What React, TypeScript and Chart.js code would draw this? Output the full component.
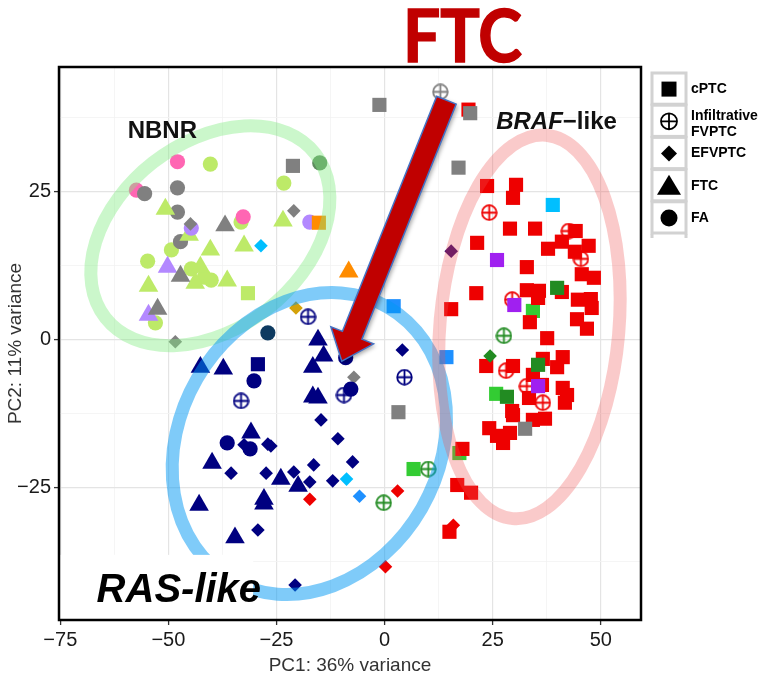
import React, { useEffect, useRef } from 'react';
import { Chart, registerables } from 'chart.js';

Chart.register(...registerables);

const FONT = '"Liberation Sans", Arial, Helvetica, sans-serif';

// ---------- axes ----------
const xRange = [-75.3, 59.3];
const yRange = [-47.3, 46.1];
const xTicks = [-75, -62.5, -50, -37.5, -25, -12.5, 0, 12.5, 25, 37.5, 50];
const yTicks = [-37.5, -25, -12.5, 0, 12.5, 25, 37.5];
const xMajor = [-75, -50, -25, 0, 25, 50];
const yMajor = [-25, 0, 25];
const xTitle = 'PC1: 36% variance';
const yTitle = 'PC2: 11% variance';

// ---------- data: [PC1, PC2] ----------
const redSquares = [
  [19.4, 38.9], [23.7, 26.0], [30.4, 26.2], [29.7, 24.0], [29.0, 18.8], [34.8, 18.8], [44.2, 18.4],
  [21.4, 16.4], [37.8, 15.4], [41.0, 16.6], [47.2, 15.9], [44.0, 14.9], [32.9, 12.3], [45.6, 11.1],
  [48.4, 10.5], [21.2, 7.9], [32.9, 8.4], [35.7, 8.3], [41.0, 8.1], [35.5, 7.1], [15.4, 5.2],
  [44.7, 6.8], [47.7, 6.9], [47.9, 5.4], [44.5, 3.5], [46.8, 1.9], [33.6, 3.0], [37.6, 0.3],
  [23.5, -4.4], [29.7, -4.4], [36.6, -3.2], [41.2, -2.9], [39.9, -4.6], [34.3, -5.9], [36.4, -7.6],
  [41.2, -8.1], [42.2, -9.3], [33.4, -9.8], [41.7, -10.6], [29.5, -12.0], [29.7, -12.7], [34.3, -13.5],
  [37.1, -13.3], [24.2, -14.9], [26.0, -16.2], [29.0, -15.7], [27.4, -17.4], [18.0, -18.4],
  [16.8, -24.5], [20.0, -25.8], [15.0, -32.4],
];
const redCrossed = [[24.2, 21.5], [42.6, 18.4], [45.4, 13.7], [29.5, 6.8], [28.1, -5.2], [32.9, -7.8], [36.6, -10.6]];
const redDiamonds = [[-17.3, -26.9], [3.0, -25.5], [0.2, -38.3], [15.9, -31.3]];

const navyTriangles = [
  [-15.4, 0.0], [-14.1, -2.7], [-16.6, -4.6], [-42.6, -4.6], [-37.3, -4.9], [-16.6, -9.6], [-15.4, -9.8],
  [-30.9, -15.7], [-39.9, -20.8], [-24.0, -23.5], [-20.0, -24.7], [-27.9, -26.9], [-27.9, -27.7],
  [-42.9, -27.9], [-34.6, -33.4],
];
const navyCircles = [[-9.0, -3.0], [-30.2, -6.9], [-7.8, -8.3], [-36.4, -17.4], [-31.1, -18.4]];
const navyDiamonds = [
  [-14.7, -13.5], [-10.8, -16.7], [-32.5, -17.7], [-27.0, -17.6], [-26.3, -17.9], [-35.5, -22.5],
  [-27.4, -22.5], [-21.0, -22.3], [-16.4, -21.1], [-7.4, -20.6], [-17.3, -24.0], [-12.0, -23.8],
  [-29.3, -32.1], [-20.7, -41.4], [4.1, -1.7],
];
const navyCrossed = [[-17.7, 3.9], [-33.2, -10.3], [-9.4, -9.3], [4.6, -6.3]];
const navySquares = [[-29.3, -4.1]];
const tealCircles = [[-27.0, 1.2]];

const ygCircles = [[-40.3, 29.7], [-23.3, 26.5], [-33.2, 19.9], [-49.3, 15.2], [-54.8, 13.3], [-44.7, 12.0], [-41.7, 10.6], [-40.1, 10.1], [-53.0, 2.9]];
const ygTriangles = [[-50.7, 22.1], [-23.5, 20.1], [-45.2, 17.7], [-32.5, 15.9], [-40.3, 15.2], [-42.6, 12.3], [-43.8, 9.6], [-36.4, 10.0], [-54.6, 9.1]];
const ygSquares = [[-31.6, 7.9]];
const pinkCircles = [[-47.9, 30.1], [-57.4, 25.3], [-32.7, 20.8]];
const grayCircles = [[-55.5, 24.7], [-47.9, 25.7], [-47.9, 21.6], [-47.2, 16.6]];
const grayTriangles = [[-36.9, 19.3], [-47.2, 10.8], [-52.5, 5.2]];
const grayDiamonds = [[-21.0, 21.8], [-44.9, 19.6], [-48.4, -0.3], [-7.1, -6.3]];
const graySquares = [[-1.2, 39.7], [19.8, 38.3], [17.1, 29.1], [-21.2, 29.4], [3.2, -12.2], [32.5, -15.0]];
const grayCrossed = [[12.9, 41.9]];
const lilacCircles = [[-44.7, 18.9], [-17.3, 19.9]];
const lilacTriangles = [[-50.2, 12.3], [-54.6, 4.2]];
const seaCircles = [[-15.0, 29.9]];
const orangeSquares = [[-15.2, 19.8]];
const orangeTriangles = [[-8.3, 11.5]];
const goldDiamonds = [[-20.5, 5.4]];
const skyDiamonds = [[-28.6, 15.9], [-8.8, -23.5]];
const dodgerDiamonds = [[-5.8, -26.4]];
const skySquares = [[38.9, 22.8]];
const dodgerSquares = [[2.1, 5.7], [14.3, -2.9]];
const indigoDiamonds = [[15.4, 15.0]];
const limeSquares = [[34.3, 4.9], [25.8, -9.1], [17.3, -19.1], [6.7, -21.8]];
const forestSquares = [[39.9, 8.8], [35.5, -4.2], [28.3, -9.6]];
const forestDiamonds = [[24.4, -2.7]];
const forestCrossed = [[27.6, 0.7], [10.1, -21.8], [-0.2, -27.5]];
const purpleSquares = [[26.0, 13.5], [30.0, 5.9], [35.5, -7.8]];

// ---------- annotations (data coordinates) ----------
const ellipses = [
  { cx: -40.3, cy: 17.6, a: 30.8, b: 21.5, angle: -38, color: 'rgba(130,235,130,0.42)' },
  { cx: -17.4, cy: -17.5, a: 36.4, b: 30.0, angle: -60, color: 'rgba(0,151,243,0.5)' },
  { cx: 33.5, cy: 2.2, a: 44.5, b: 20.7, angle: -85, color: 'rgba(240,80,80,0.3)' },
];
const arrowTail = [14.3, 40.5];
const arrowTip = [-9.9, -3.6];
const rasBox = [-75.3, -30.4, -47.3, -36.3];
const nbnrPos = [-51.4, 35.3];
const brafPos = [25.8, 36.8];
const rasPos = [-66.6, -42.4];
const ftcX = 18.0;
const legendItems = ['cPTC', 'Infiltrative\nFVPTC', 'EFVPTC', 'FTC', 'FA'];
const legendShapes = ['rect', 'crossed', 'rectRot', 'triangle', 'circle'];

const RED = '#ee0000';
const NAVY = '#000080';
const GRAY = '#808080';

function crossedCircle(color: string, d = 17) {
  const c = document.createElement('canvas');
  c.width = d;
  c.height = d;
  const g = c.getContext('2d')!;
  g.strokeStyle = color;
  g.lineWidth = 1.8;
  const r = d / 2 - 1.2;
  g.beginPath();
  g.arc(d / 2, d / 2, r, 0, Math.PI * 2);
  g.stroke();
  g.beginPath();
  g.moveTo(d / 2 - r, d / 2);
  g.lineTo(d / 2 + r, d / 2);
  g.moveTo(d / 2, d / 2 - r);
  g.lineTo(d / 2, d / 2 + r);
  g.stroke();
  return c;
}

const fmt = (v: number) => (v < 0 ? '\u2212' + Math.abs(v) : String(v));

const overlayPlugin = {
  id: 'overlays',
  afterDatasetsDraw(chart: any) {
    const { ctx, chartArea: ca, scales } = chart;
    const X = (v: number) => scales.x.getPixelForValue(v);
    const Y = (v: number) => scales.y.getPixelForValue(v);
    const unit = Math.abs(X(1) - X(0));

    ctx.save();
    ctx.beginPath();
    ctx.rect(ca.left, ca.top, ca.right - ca.left, ca.bottom - ca.top);
    ctx.clip();
    for (const e of ellipses) {
      ctx.beginPath();
      ctx.ellipse(X(e.cx), Y(e.cy), e.a * unit, e.b * unit, (e.angle * Math.PI) / 180, 0, Math.PI * 2);
      ctx.strokeStyle = e.color;
      ctx.lineWidth = 13;
      ctx.stroke();
    }
    // white box behind RAS-like
    ctx.fillStyle = '#ffffff';
    const bx0 = X(rasBox[0]), bx1 = X(rasBox[1]), by0 = Y(rasBox[3]), by1 = Y(rasBox[2]);
    ctx.fillRect(bx0, by0, bx1 - bx0, by1 - by0);
    ctx.restore();

    // labels
    ctx.save();
    ctx.fillStyle = '#111';
    ctx.textBaseline = 'middle';
    ctx.textAlign = 'center';
    ctx.font = `bold 24px ${FONT}`;
    ctx.fillText('NBNR', X(nbnrPos[0]), Y(nbnrPos[1]));
    ctx.textAlign = 'left';
    ctx.font = `italic bold 24px ${FONT}`;
    const bx = X(brafPos[0]);
    ctx.fillText('BRAF', bx, Y(brafPos[1]));
    const bw = ctx.measureText('BRAF').width;
    ctx.font = `bold 24px ${FONT}`;
    ctx.fillText('\u2212like', bx + bw, Y(brafPos[1]));
    ctx.fillStyle = '#000';
    ctx.font = `italic bold 40px ${FONT}`;
    ctx.fillText('RAS-like', X(rasPos[0]), Y(rasPos[1]));
    ctx.restore();

    // panel border
    ctx.save();
    ctx.strokeStyle = '#000';
    ctx.lineWidth = 2.5;
    ctx.strokeRect(ca.left, ca.top, ca.right - ca.left, ca.bottom - ca.top);
    ctx.restore();

    // arrow
    const tx = X(arrowTail[0]), ty = Y(arrowTail[1]);
    const hx = X(arrowTip[0]), hy = Y(arrowTip[1]);
    const len = Math.hypot(hx - tx, hy - ty);
    const ux = (hx - tx) / len, uy = (hy - ty) / len;
    const px = -uy, py = ux;
    const sw = 10.5, hw = 23, hl = 28;
    const bxm = hx - ux * hl, bym = hy - uy * hl;
    ctx.save();
    ctx.beginPath();
    ctx.moveTo(tx + px * sw, ty + py * sw);
    ctx.lineTo(bxm + px * sw, bym + py * sw);
    ctx.lineTo(bxm + px * hw, bym + py * hw);
    ctx.lineTo(hx, hy);
    ctx.lineTo(bxm - px * hw, bym - py * hw);
    ctx.lineTo(bxm - px * sw, bym - py * sw);
    ctx.lineTo(tx - px * sw, ty - py * sw);
    ctx.closePath();
    ctx.shadowColor = 'rgba(0,0,0,0.35)';
    ctx.shadowBlur = 4;
    ctx.shadowOffsetX = 2;
    ctx.shadowOffsetY = 2;
    ctx.fillStyle = '#c00000';
    ctx.fill();
    ctx.shadowColor = 'transparent';
    ctx.strokeStyle = '#4472c4';
    ctx.lineWidth = 1.5;
    ctx.stroke();
    ctx.restore();

    // FTC title
    ctx.save();
    ctx.fillStyle = '#c00000';
    ctx.font = `bold 72px Lato, "Open Sans", ${FONT}`;
    ctx.textAlign = 'center';
    ctx.textBaseline = 'alphabetic';
    const w = ctx.measureText('FTC').width;
    ctx.translate(X(ftcX), ca.top - 5);
    ctx.scale(119 / w, 1);
    ctx.lineWidth = 1.5;
    ctx.strokeStyle = '#c00000';
    ctx.fillText('FTC', 0, 0);
    ctx.strokeText('FTC', 0, 0);
    ctx.restore();

    // legend
    ctx.save();
    const lx = ca.right + 11;
    const cell = 32.2;
    const ly = ca.top + 6;
    ctx.strokeStyle = '#d2d2d2';
    ctx.lineWidth = 3;
    legendItems.forEach((label, i) => {
      const y0 = ly + i * cell;
      ctx.strokeRect(lx, y0, 34, cell - 1);
      const cx = lx + 17, cy = y0 + cell / 2;
      ctx.fillStyle = '#000';
      ctx.strokeStyle = '#000';
      const s = legendShapes[i];
      ctx.beginPath();
      if (s === 'rect') {
        ctx.fillRect(cx - 7.5, cy - 7.5, 15, 15);
      } else if (s === 'crossed') {
        ctx.lineWidth = 1.8;
        ctx.arc(cx, cy, 8, 0, Math.PI * 2);
        ctx.moveTo(cx - 8, cy);
        ctx.lineTo(cx + 8, cy);
        ctx.moveTo(cx, cy - 8);
        ctx.lineTo(cx, cy + 8);
        ctx.stroke();
      } else if (s === 'rectRot') {
        ctx.moveTo(cx, cy - 8);
        ctx.lineTo(cx + 8, cy);
        ctx.lineTo(cx, cy + 8);
        ctx.lineTo(cx - 8, cy);
        ctx.closePath();
        ctx.fill();
      } else if (s === 'triangle') {
        ctx.moveTo(cx, cy - 11);
        ctx.lineTo(cx + 12, cy + 9);
        ctx.lineTo(cx - 12, cy + 9);
        ctx.closePath();
        ctx.fill();
      } else {
        ctx.arc(cx, cy, 8.5, 0, Math.PI * 2);
        ctx.fill();
      }
      ctx.strokeStyle = '#d2d2d2';
      ctx.lineWidth = 3;
      ctx.font = `bold 14px ${FONT}`;
      ctx.textAlign = 'left';
      ctx.textBaseline = 'middle';
      const lines = label.split('\n');
      const shift = lines.length > 1 ? 3 : 0;
      lines.forEach((ln, k) => {
        ctx.fillText(ln, lx + 39, cy + shift + (k - (lines.length - 1) / 2) * 16);
      });
    });
    const yEnd = ly + legendItems.length * cell;
    ctx.beginPath();
    ctx.moveTo(lx, yEnd);
    ctx.lineTo(lx, yEnd + 4);
    ctx.moveTo(lx + 34, yEnd);
    ctx.lineTo(lx + 34, yEnd + 4);
    ctx.stroke();
    ctx.restore();
  },
};

export default function App() {
  const ref = useRef<HTMLCanvasElement | null>(null);

  useEffect(() => {
    if (!ref.current) return;
    const crossRed = crossedCircle(RED);
    const crossNavy = crossedCircle(NAVY);
    const crossGray = crossedCircle(GRAY);
    const crossGreen = crossedCircle('#228b22');

    type S = { data: number[][]; color: string; style: any; r: number };
    const sq = 10, ci = 7.6, tr = 11.3, di = 6.8;
    // bottom -> top
    const series: S[] = [
      { data: ygCircles, color: '#bdea68', style: 'circle', r: ci },
      { data: pinkCircles, color: '#ff66b3', style: 'circle', r: ci },
      { data: grayCircles, color: GRAY, style: 'circle', r: ci },
      { data: ygTriangles, color: '#bdea68', style: 'triangle', r: tr },
      { data: ygSquares, color: '#bdea68', style: 'rect', r: sq },
      { data: lilacCircles, color: '#b388ff', style: 'circle', r: ci },
      { data: lilacTriangles, color: '#b388ff', style: 'triangle', r: tr },
      { data: grayTriangles, color: GRAY, style: 'triangle', r: tr },
      { data: grayDiamonds, color: GRAY, style: 'rectRot', r: di },
      { data: seaCircles, color: '#5e8c5e', style: 'circle', r: ci },
      { data: orangeSquares, color: '#ff8c00', style: 'rect', r: sq },
      { data: orangeTriangles, color: '#ff8c00', style: 'triangle', r: tr },
      { data: goldDiamonds, color: '#d4a20a', style: 'rectRot', r: di },
      { data: skyDiamonds, color: '#00bfff', style: 'rectRot', r: di },
      { data: dodgerDiamonds, color: '#1e90ff', style: 'rectRot', r: di },
      { data: navyDiamonds, color: NAVY, style: 'rectRot', r: di },
      { data: navyTriangles, color: NAVY, style: 'triangle', r: tr },
      { data: navyCrossed, color: NAVY, style: crossNavy, r: 8 },
      { data: navyCircles, color: NAVY, style: 'circle', r: ci },
      { data: navySquares, color: NAVY, style: 'rect', r: sq },
      { data: tealCircles, color: '#0e3a60', style: 'circle', r: ci },
      { data: limeSquares, color: '#33cc33', style: 'rect', r: sq },
      { data: forestCrossed, color: '#228b22', style: crossGreen, r: 8 },
      { data: redCrossed, color: RED, style: crossRed, r: 8 },
      { data: redDiamonds, color: RED, style: 'rectRot', r: di },
      { data: redSquares, color: RED, style: 'rect', r: sq },
      { data: forestSquares, color: '#228b22', style: 'rect', r: sq },
      { data: forestDiamonds, color: '#228b22', style: 'rectRot', r: di },
      { data: graySquares, color: GRAY, style: 'rect', r: sq },
      { data: grayCrossed, color: GRAY, style: crossGray, r: 8 },
      { data: purpleSquares, color: '#a020f0', style: 'rect', r: sq },
      { data: skySquares, color: '#00bfff', style: 'rect', r: sq },
      { data: dodgerSquares, color: '#1e90ff', style: 'rect', r: sq },
      { data: indigoDiamonds, color: '#3d0a6e', style: 'rectRot', r: di },
    ];

    const datasets = series
      .map((s) => ({
        type: 'scatter' as const,
        data: s.data.map(([x, y]) => ({ x, y })),
        backgroundColor: s.color,
        borderColor: s.color,
        borderWidth: 0,
        pointStyle: s.style,
        pointRadius: s.r,
        pointHoverRadius: s.r,
      }))
      .reverse();

    const isMajorX = (v: number) => xMajor.includes(v);
    const isMajorY = (v: number) => yMajor.includes(v);

    const chart = new Chart(ref.current, {
      type: 'scatter',
      data: { datasets },
      plugins: [overlayPlugin],
      options: {
        animation: false,
        responsive: true,
        maintainAspectRatio: false,
        events: [],
        layout: { padding: { left: 0, right: 128, top: 67, bottom: 0 } },
        plugins: { legend: { display: false }, tooltip: { enabled: false }, title: { display: false } },
        scales: {
          x: {
            type: 'linear',
            min: xRange[0],
            max: xRange[1],
            afterBuildTicks: (axis: any) => {
              axis.ticks = xTicks.map((v) => ({ value: v }));
            },
            afterFit: (s: any) => {
              s.height = 61;
            },
            border: { display: false },
            grid: {
              color: (c: any) => (isMajorX(c.tick?.value) ? '#e4e4e4' : '#f2f2f2'),
              lineWidth: (c: any) => (isMajorX(c.tick?.value) ? 1.2 : 0.8),
              tickColor: (c: any) => (isMajorX(c.tick?.value) ? '#333' : 'rgba(0,0,0,0)'),
              tickLength: 5,
              tickWidth: 1.3,
            },
            ticks: {
              autoSkip: false,
              maxRotation: 0,
              padding: 3,
              color: '#1a1a1a',
              font: { family: FONT, size: 20 },
              callback: (v: any) => (isMajorX(Number(v)) ? fmt(Number(v)) : ''),
            },
            title: {
              display: true,
              text: xTitle,
              color: '#333',
              font: { family: FONT, size: 19 },
              padding: { top: 2, bottom: 4 },
            },
          },
          y: {
            type: 'linear',
            min: yRange[0],
            max: yRange[1],
            afterBuildTicks: (axis: any) => {
              axis.ticks = yTicks.map((v) => ({ value: v }));
            },
            afterFit: (s: any) => {
              s.width = 59;
            },
            border: { display: false },
            grid: {
              color: (c: any) => (isMajorY(c.tick?.value) ? '#e4e4e4' : '#f2f2f2'),
              lineWidth: (c: any) => (isMajorY(c.tick?.value) ? 1.2 : 0.8),
              tickColor: (c: any) => (isMajorY(c.tick?.value) ? '#333' : 'rgba(0,0,0,0)'),
              tickLength: 5,
              tickWidth: 1.3,
            },
            ticks: {
              autoSkip: false,
              padding: 3,
              color: '#1a1a1a',
              font: { family: FONT, size: 20 },
              callback: (v: any) => (isMajorY(Number(v)) ? fmt(Number(v)) : ''),
            },
            title: {
              display: true,
              text: yTitle,
              color: '#333',
              font: { family: FONT, size: 19 },
              padding: { top: 4, bottom: 2 },
            },
          },
        },
      } as any,
    });
    return () => chart.destroy();
  }, []);

  return (
    <div style={{ position: 'absolute', left: 0, top: 0, width: 769, height: 681, background: '#fff' }}>
      <canvas ref={ref} />
    </div>
  );
}
